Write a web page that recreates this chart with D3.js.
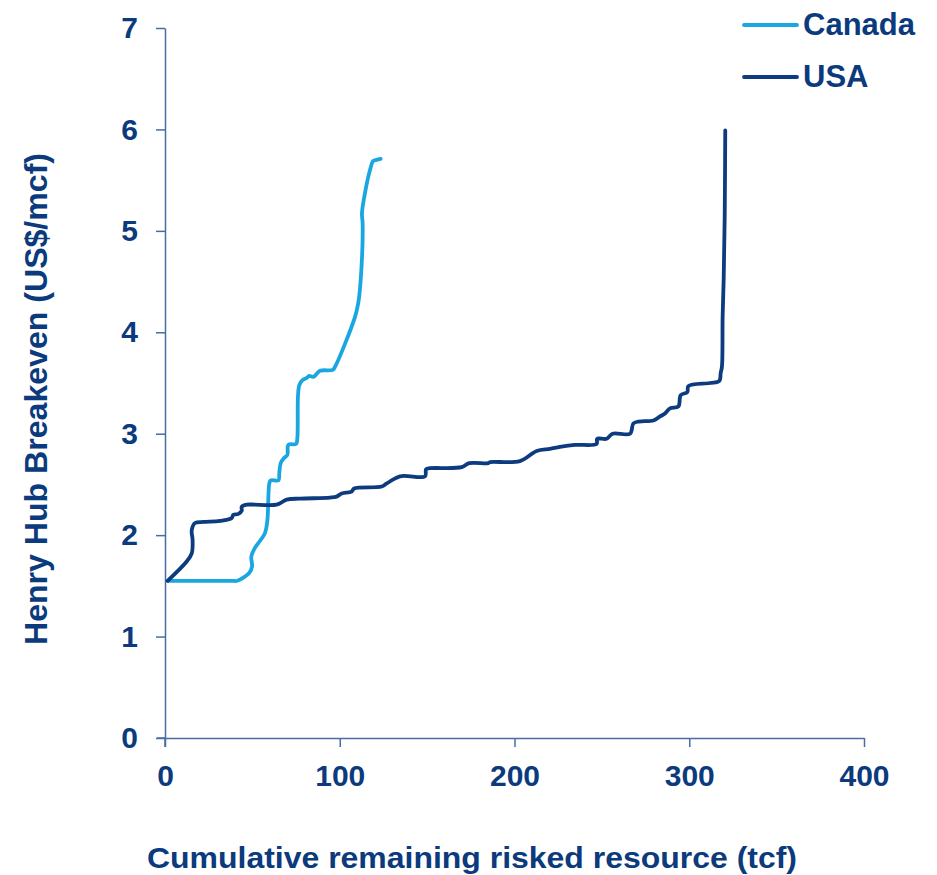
<!DOCTYPE html>
<html>
<head>
<meta charset="utf-8">
<script src="https://cdn.jsdelivr.net/npm/d3@7"></script>
<style>
html,body{margin:0;padding:0;background:#fff;}
svg{display:block;}
text{font-family:"Liberation Sans",Arial,sans-serif;font-weight:bold;fill:#0B3A7D;}
</style>
</head>
<body>
<svg id="chart" width="937" height="875"></svg>
<script>
const xTicks = [0, 100, 200, 300, 400];
const yTicks = [0, 1, 2, 3, 4, 5, 6, 7];
const seriesNames = ["Canada", "USA"];
const xTitle = "Cumulative remaining risked resource (tcf)";
const yTitle = "Henry Hub Breakeven (US$/mcf)";

const canadaX = [1.5, 20.0, 38.0, 41.4, 48.3, 49.8, 49.4, 51.3, 57.2, 58.6, 59.7, 60.5, 64.9, 65.4, 66.2, 68.1, 70.0, 70.6, 75.0, 75.7, 76.1, 76.9, 78.8, 81.1, 82.6, 84.9, 88.7, 96.0, 97.3, 108.7, 110.6, 112.0, 113.1, 112.7, 114.4, 117.3, 119.2, 121.1, 123.4];
const canadaY = [1.55, 1.55, 1.55, 1.55, 1.63, 1.69, 1.79, 1.87, 2.02, 2.15, 2.51, 2.54, 2.54, 2.61, 2.71, 2.76, 2.79, 2.89, 2.90, 2.95, 3.37, 3.48, 3.53, 3.55, 3.57, 3.56, 3.62, 3.63, 3.66, 4.15, 4.29, 4.52, 5.07, 5.17, 5.37, 5.60, 5.69, 5.70, 5.71];

const usaX = [1.5, 12.4, 15.3, 15.8, 15.3, 17.2, 22.0, 31.5, 38.2, 39.1, 42.0, 43.9, 43.9, 46.7, 63.9, 69.6, 77.3, 94.4, 98.2, 101.1, 106.8, 108.2, 124.0, 126.9, 134.5, 148.8, 149.4, 151.6, 169.8, 174.1, 185.0, 186.0, 203.1, 212.7, 220.3, 226.0, 234.6, 247.0, 247.3, 252.7, 256.1, 266.1, 268.0, 270.9, 279.5, 283.3, 286.1, 289.0, 293.8, 295.1, 298.9, 299.5, 311.9, 317.2, 318.0, 318.7, 319.1, 319.7, 320.3, 320.6];
const usaY = [1.55, 1.74, 1.82, 1.95, 2.05, 2.12, 2.13, 2.14, 2.17, 2.20, 2.21, 2.24, 2.28, 2.30, 2.30, 2.35, 2.36, 2.37, 2.38, 2.41, 2.43, 2.46, 2.48, 2.51, 2.58, 2.58, 2.65, 2.66, 2.67, 2.71, 2.71, 2.72, 2.73, 2.83, 2.85, 2.87, 2.89, 2.90, 2.95, 2.95, 3.00, 3.00, 3.10, 3.12, 3.13, 3.17, 3.20, 3.25, 3.27, 3.38, 3.41, 3.47, 3.50, 3.52, 3.60, 3.66, 4.15, 4.52, 5.17, 5.99];

const colors = {Canada: "#1AA7E1", USA: "#0D3B7F"};
const axisColor = "#4A6CA3";

const svg = d3.select("#chart");
const x = d3.scaleLinear().domain([0, 400]).range([165, 864]);
const y = d3.scaleLinear().domain([0, 7]).range([738, 28]);

// axes
const xAxis = svg.append("g").attr("transform", "translate(0,738)")
  .call(d3.axisBottom(x).tickValues(xTicks).tickFormat(d3.format("d")).tickSize(9).tickPadding(18).tickSizeOuter(0));
const yAxis = svg.append("g").attr("transform", "translate(165,0)")
  .call(d3.axisLeft(y).tickValues(yTicks).tickFormat(d3.format("d")).tickSize(9).tickPadding(18).tickSizeOuter(0));
[xAxis, yAxis].forEach(g => {
  g.select(".domain").attr("stroke", axisColor).attr("stroke-width", 1.5);
  g.selectAll(".tick line").attr("stroke", axisColor).attr("stroke-width", 1.5);
  g.selectAll(".tick text").attr("font-size", 30).attr("fill", "#0B3A7D")
    .attr("font-family", "Liberation Sans, Arial, sans-serif").attr("font-weight", "bold");
});
// extend axis lines past origin
svg.append("line").attr("x1", 157).attr("x2", 165).attr("y1", 738).attr("y2", 738)
  .attr("stroke", axisColor).attr("stroke-width", 1.5);
svg.append("line").attr("x1", 165).attr("x2", 165).attr("y1", 738).attr("y2", 747)
  .attr("stroke", axisColor).attr("stroke-width", 1.5);

// titles
svg.append("text").attr("x", 472).attr("y", 868).attr("text-anchor", "middle")
  .attr("font-size", 30).attr("textLength", 650).attr("lengthAdjust", "spacingAndGlyphs").text(xTitle);
svg.append("text").attr("transform", "translate(47,399) rotate(-90)").attr("text-anchor", "middle")
  .attr("font-size", 31).attr("textLength", 492).attr("lengthAdjust", "spacingAndGlyphs").text(yTitle);

// lines
const line = d3.line().x(d => x(d[0])).y(d => y(d[1])).curve(d3.curveCatmullRom.alpha(0.5));
const series = [
  {name: "Canada", pts: canadaX.map((v, i) => [v, canadaY[i]])},
  {name: "USA", pts: usaX.map((v, i) => [v, usaY[i]])}
];
series.forEach(s => {
  svg.append("path").attr("d", line(s.pts)).attr("fill", "none")
    .attr("stroke", colors[s.name]).attr("stroke-width", 3.8)
    .attr("stroke-linejoin", "round").attr("stroke-linecap", "round");
});

// legend
seriesNames.forEach((n, i) => {
  const ly = 25 + i * 52;
  svg.append("line").attr("x1", 744).attr("x2", 797).attr("y1", ly).attr("y2", ly)
    .attr("stroke", colors[n]).attr("stroke-width", 3.8).attr("stroke-linecap", "round");
  svg.append("text").attr("x", 803).attr("y", ly + 10).attr("font-size", 31).text(n);
});
</script>
</body>
</html>
